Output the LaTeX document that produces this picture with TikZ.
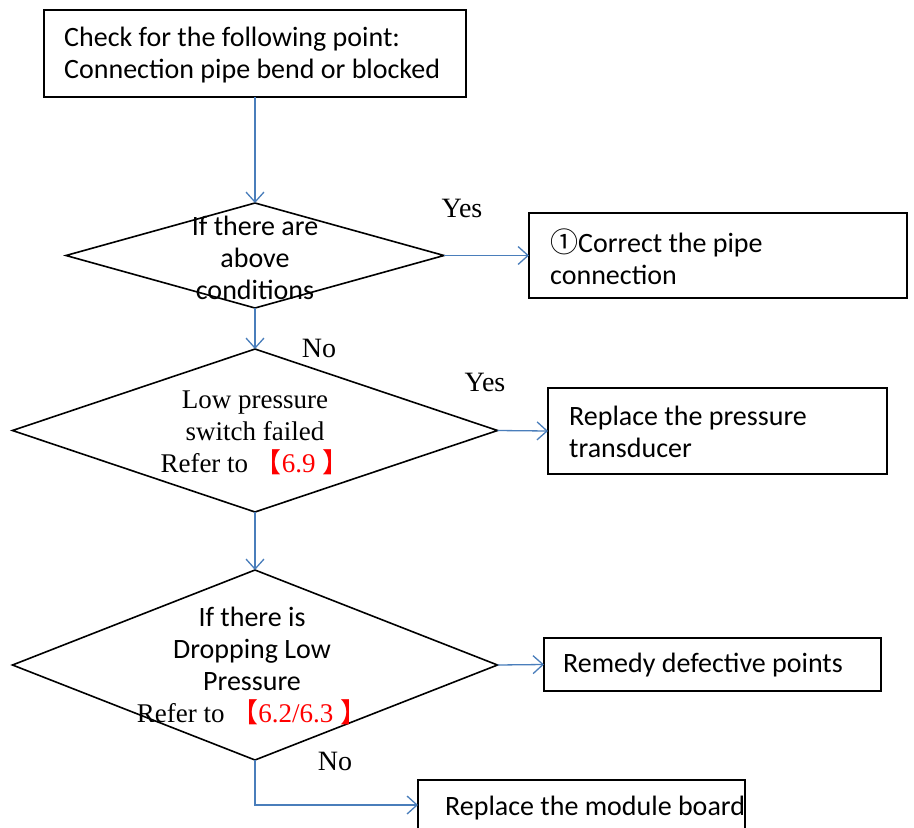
\documentclass[tikz,border=0pt]{standalone}
\usepackage{fontspec}
\setmainfont{Liberation Serif}
\newfontfamily\calfont{Carlito}
\newfontfamily\cjkfont{Noto Sans CJK SC}
\usetikzlibrary{shapes.geometric,arrows.meta}
\definecolor{lineblue}{HTML}{4A7EBB}
\definecolor{refred}{HTML}{FF0000}
\newcommand{\refnum}[1]{\textcolor{refred}{{\cjkfont 【}#1 {\cjkfont 】}}}
\begin{document}
\begin{tikzpicture}[x=1pt,y=-1pt,
  box/.style={draw, line width=1.6pt, rectangle, inner sep=0pt, outer sep=0pt},
  dia/.style={draw, diamond, line width=1.6pt, inner sep=0pt, outer sep=0pt},
  txt/.style={inner sep=0pt, align=center, font=\fontsize{27}{32}\selectfont},
  btxt/.style={inner sep=0pt, align=left, font=\calfont\fontsize{28}{32}\selectfont},
  lbl/.style={inner sep=0pt, font=\fontsize{28}{30}\selectfont},
  conn/.style={draw=lineblue, line width=1.3pt, -{Straight Barb[length=10pt,width=18pt]}}]
\useasboundingbox (0,0) rectangle (914,828);
\fill[white] (0,0) rectangle (914,828);
% boxes
\node[box, minimum width=422pt, minimum height=87pt] (b1) at (255,53.5) {};
\node[btxt, anchor=west] (t1) at (64,55) {Check for the following point:\\Connection pipe bend or blocked};
\node[box, minimum width=378pt, minimum height=85pt] (b2) at (718,255.5) {};
\node[btxt, anchor=west] (t2) at (550,257) {{\cjkfont ①}Correct the pipe\\connection};
\node[box, minimum width=339pt, minimum height=86pt] (b3) at (717.5,431) {};
\node[btxt, anchor=west] (t3) at (569,432) {Replace the pressure\\transducer};
\node[box, minimum width=337pt, minimum height=53pt] (b4) at (712.5,664.5) {};
\node[btxt, anchor=west] (t4) at (563,665) {Remedy defective points};
\node[box, minimum width=327pt, minimum height=50pt] (b5) at (581.5,805) {};
\node[btxt, anchor=west] (t5) at (445,808) {Replace the module board};
% diamonds
\node[dia, minimum width=378pt, minimum height=105pt] (d1) at (255,255.5) {};
\node[txt, font=\calfont\fontsize{28}{32}\selectfont] (dt1) at (255,258) {If there are\\above\\conditions};
\node[dia, minimum width=485pt, minimum height=163pt] (d2) at (255,430.5) {};
\node[txt] (dt2) at (255,433) {Low pressure\\switch failed\\Refer to \refnum{6.9}};
\node[dia, minimum width=485pt, minimum height=190pt] (d3) at (255,665) {};
\node[txt] (dt3) at (252,666) {{\calfont\fontsize{28}{32}\selectfont If there is}\\{\calfont\fontsize{28}{32}\selectfont Dropping Low}\\{\calfont\fontsize{28}{32}\selectfont Pressure}\\Refer to \refnum{6.2/6.3}};
% labels
\node[lbl] (y1) at (462,208) {Yes};
\node[lbl] (n1) at (319,348) {No};
\node[lbl] (y2) at (485,382) {Yes};
\node[lbl] (n2) at (335,761) {No};
% connectors
\draw[conn] (b1.south) -- (d1.north);
\draw[conn] (d1.east) -- (b2.west);
\draw[conn] (d1.south) -- (d2.north);
\draw[conn] (d2.east) -- (b3.west);
\draw[conn] (d2.south) -- (d3.north);
\draw[conn] (d3.east) -- (b4.west);
\draw[conn] (d3.south) |- (b5.west);
\end{tikzpicture}
\end{document}
